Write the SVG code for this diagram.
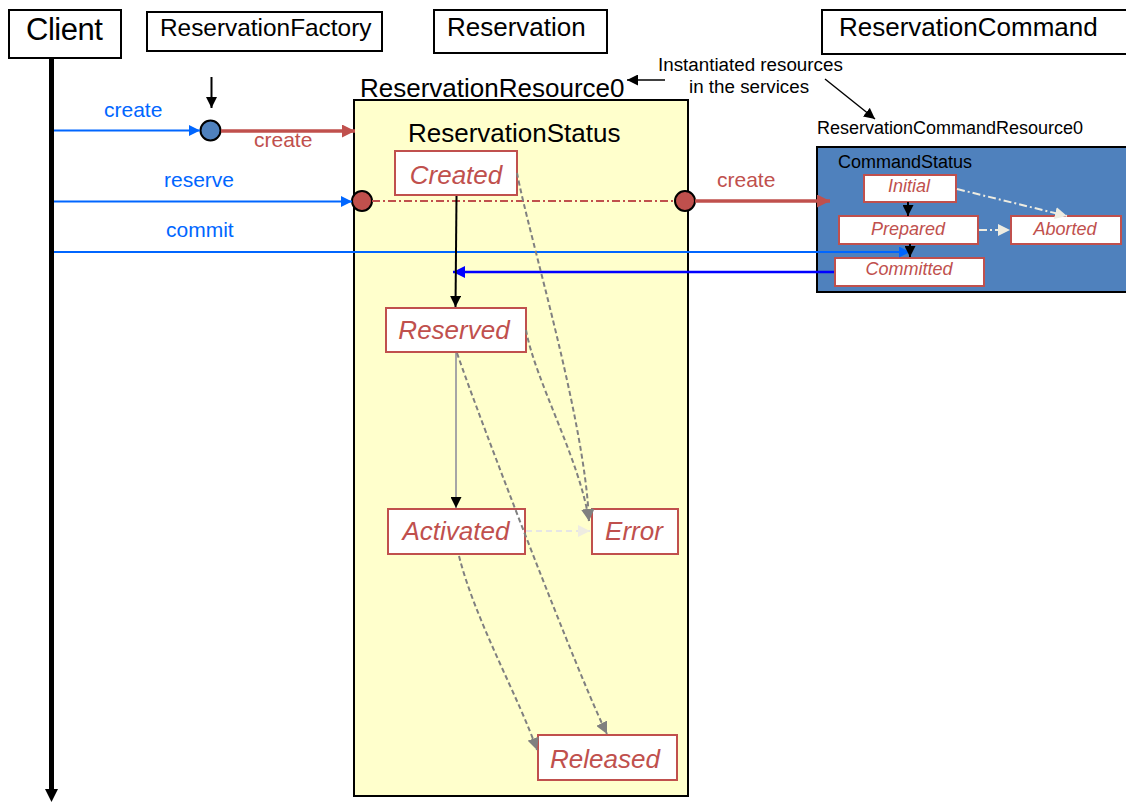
<svg xmlns="http://www.w3.org/2000/svg" width="1126" height="803" viewBox="0 0 1126 803">
<style>
text{font-family:"Liberation Sans",Arial,sans-serif;}
.hdr{fill:#fff;stroke:#000;stroke-width:2;}
.h{font-size:26px;fill:#000;}
.st{fill:#fff;stroke:#C0504D;stroke-width:2;}
.stt{font-size:26px;font-style:italic;fill:#C0504D;text-anchor:middle;}
.cst{font-size:18px;font-style:italic;fill:#C0504D;text-anchor:middle;}
.blue{font-size:21px;fill:#0066FF;}
.red{font-size:21px;fill:#C0504D;}
.sm{font-size:18px;fill:#000;}
.gd{fill:none;stroke:#808080;stroke-width:2;stroke-dasharray:5,3;}
</style>
<defs>
<marker id="mb" viewBox="0 0 10 10" refX="10" refY="5" markerWidth="11" markerHeight="11" markerUnits="userSpaceOnUse" orient="auto"><path d="M0,0 L10,5 L0,10 z" fill="#0066FF"/></marker>
<marker id="mdb" viewBox="0 0 10 10" refX="10" refY="5" markerWidth="12" markerHeight="12" markerUnits="userSpaceOnUse" orient="auto"><path d="M0,0 L10,5 L0,10 z" fill="#0000FF"/></marker>
<marker id="mr" viewBox="0 0 10 10" refX="10" refY="5" markerWidth="13" markerHeight="13" markerUnits="userSpaceOnUse" orient="auto"><path d="M0,0 L10,5 L0,10 z" fill="#C0504D"/></marker>
<marker id="mk" viewBox="0 0 10 10" refX="10" refY="5" markerWidth="11" markerHeight="11" markerUnits="userSpaceOnUse" orient="auto"><path d="M0,0 L10,5 L0,10 z" fill="#000"/></marker>
<marker id="mg" viewBox="0 0 10 10" refX="10" refY="5" markerWidth="12" markerHeight="12" markerUnits="userSpaceOnUse" orient="auto"><path d="M0,0 L10,5 L0,10 z" fill="#808080"/></marker>
<marker id="ml" viewBox="0 0 10 10" refX="10" refY="5" markerWidth="12" markerHeight="12" markerUnits="userSpaceOnUse" orient="auto"><path d="M0,0 L10,5 L0,10 z" fill="#EEECE1"/></marker>
</defs>
<rect width="1126" height="803" fill="#fff"/>

<g id="client">
<rect class="hdr" x="9" y="10" width="112" height="48"/>
<text x="26" y="40" style="font-size:31px;letter-spacing:-0.5px">Client</text>
<line x1="51.5" y1="58" x2="51.5" y2="790" stroke="#000" stroke-width="5"/>
<polygon points="45,789 58,789 51.5,802" fill="#000"/>
</g>

<g id="reservationFactory">
<rect class="hdr" x="147" y="12" width="235" height="39"/>
<text x="160" y="36" style="font-size:24.4px">ReservationFactory</text>
</g>

<g id="reservation">
<rect class="hdr" x="434" y="10" width="173" height="43"/>
<text class="h" x="447" y="36">Reservation</text>
</g>

<g id="reservationCommand">
<rect class="hdr" x="822" y="10" width="310" height="44"/>
<text class="h" x="839" y="36">ReservationCommand</text>
</g>

<g id="reservationResource0">
<rect x="354" y="100" width="334" height="696" fill="#FFFFCC" stroke="#000" stroke-width="2"/>
<text class="h" x="360" y="97">ReservationResource0</text>
<text class="h" x="408" y="142">ReservationStatus</text>
</g>

<g id="note">
<text class="sm" x="658" y="71" style="font-size:18.8px">Instantiated resources</text>
<text class="sm" x="689" y="93" style="font-size:18.8px">in the services</text>
</g>

<g id="commandResource0">
<text class="sm" x="817" y="134">ReservationCommandResource0</text>
<rect x="817" y="147" width="315" height="145" fill="#4F81BD" stroke="#000" stroke-width="2"/>
<text class="sm" x="838" y="168">CommandStatus</text>
</g>

<g id="factoryPort">
<circle cx="210.5" cy="130.5" r="10" fill="#4F81BD" stroke="#000" stroke-width="2"/>
</g>
<g id="reservePortIn">
<circle cx="362" cy="201" r="10" fill="#C0504D" stroke="#000" stroke-width="2"/>
</g>
<g id="reservePortOut">
<circle cx="685" cy="201" r="10" fill="#C0504D" stroke="#000" stroke-width="2"/>
</g>

<g id="created"><rect class="st" x="395" y="151" width="122" height="44"/><text class="stt" x="456" y="184">Created</text></g>
<g id="reserved"><rect class="st" x="386" y="308" width="140" height="44"/><text class="stt" x="454" y="339">Reserved</text></g>
<g id="activated"><rect class="st" x="388" y="509" width="137" height="45"/><text class="stt" x="456" y="540">Activated</text></g>
<g id="error"><rect class="st" x="592" y="509" width="86" height="45"/><text class="stt" x="634" y="540">Error</text></g>
<g id="released"><rect class="st" x="538" y="735" width="139" height="45"/><text class="stt" x="605" y="768">Released</text></g>

<g id="initial"><rect class="st" x="864" y="175" width="92" height="27"/><text class="cst" x="909" y="192">Initial</text></g>
<g id="prepared"><rect class="st" x="839" y="216" width="139" height="28"/><text class="cst" x="908" y="235">Prepared</text></g>
<g id="aborted"><rect class="st" x="1011" y="216" width="110" height="28"/><text class="cst" x="1065" y="235">Aborted</text></g>
<g id="committed"><rect class="st" x="835" y="258" width="149" height="28"/><text class="cst" x="909" y="275">Committed</text></g>

<g id="connectors">
<line x1="54" y1="130.5" x2="200" y2="130.5" stroke="#0066FF" stroke-width="2" marker-end="url(#mb)"/>
<text class="blue" x="104" y="117">create</text>
<line x1="221" y1="131" x2="355" y2="131" stroke="#C0504D" stroke-width="3.5" marker-end="url(#mr)"/>
<text class="red" x="254" y="147">create</text>
<line x1="211.5" y1="77" x2="211.5" y2="108" stroke="#000" stroke-width="2" marker-end="url(#mk)"/>

<line x1="54" y1="201.5" x2="352" y2="201.5" stroke="#0066FF" stroke-width="2" marker-end="url(#mb)"/>
<text class="blue" x="164" y="187">reserve</text>
<line x1="372" y1="201" x2="675" y2="201" stroke="#C0504D" stroke-width="2" stroke-dasharray="8,3,2,3"/>
<line x1="695" y1="201" x2="830" y2="201" stroke="#C0504D" stroke-width="3.5" marker-end="url(#mr)"/>
<text class="red" x="717" y="187">create</text>

<line x1="54" y1="252" x2="910" y2="252" stroke="#0066FF" stroke-width="2" marker-end="url(#mb)"/>
<text class="blue" x="166" y="237">commit</text>
<line x1="834" y1="272" x2="453" y2="272" stroke="#0000FF" stroke-width="2.5" marker-end="url(#mdb)"/>

<line x1="665" y1="80" x2="627" y2="80" stroke="#000" stroke-width="1.5" marker-end="url(#mk)"/>
<line x1="825" y1="79" x2="875" y2="119" stroke="#000" stroke-width="1.5" marker-end="url(#mk)"/>

<line x1="456.5" y1="196" x2="455.5" y2="307" stroke="#000" stroke-width="2" marker-end="url(#mk)"/>
<line x1="456" y1="353" x2="456" y2="508" stroke="#A6A6A6" stroke-width="2" marker-end="url(#mk)"/>
<path class="gd" d="M517,173 C530,240 585,420 589,521" marker-end="url(#mg)"/>
<path class="gd" d="M526,330 C535,380 580,460 589,521" marker-end="url(#mg)"/>
<path class="gd" d="M457,353 C480,420 580,680 607,734" marker-end="url(#mg)"/>
<path class="gd" d="M459,556 C475,620 520,700 537,750" marker-end="url(#mg)"/>
<line x1="526" y1="531" x2="590" y2="531" stroke="#E6E6E6" stroke-width="2" stroke-dasharray="6,4" marker-end="url(#ml)"/>

<line x1="908" y1="202" x2="908" y2="216" stroke="#000" stroke-width="2" marker-end="url(#mk)"/>
<line x1="910" y1="244" x2="910" y2="257" stroke="#000" stroke-width="2" marker-end="url(#mk)"/>
<line x1="957" y1="189" x2="1067" y2="216" stroke="#EEECE1" stroke-width="2" stroke-dasharray="8,3,2,3" marker-end="url(#ml)"/>
<line x1="979" y1="230" x2="1010" y2="230" stroke="#EEECE1" stroke-width="2" stroke-dasharray="8,3,2,3" marker-end="url(#ml)"/>
</g>
</svg>
